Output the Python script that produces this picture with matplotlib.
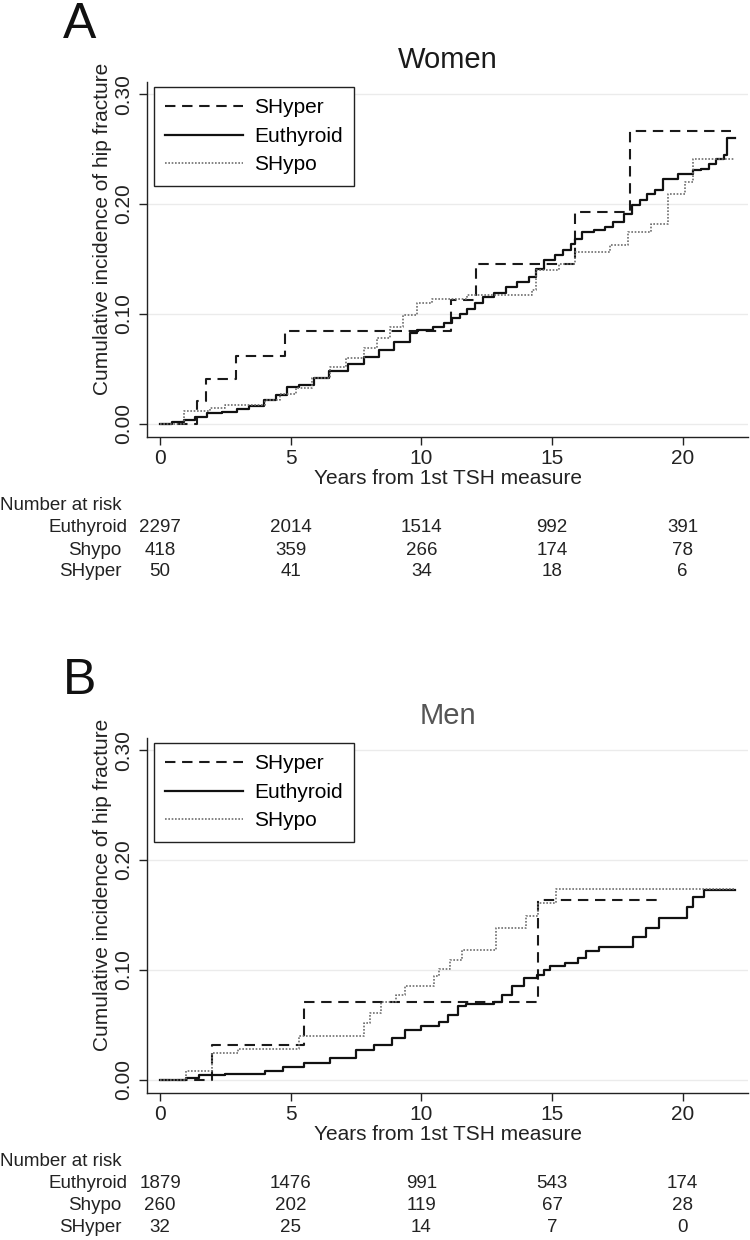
import matplotlib
matplotlib.use("Agg")
import matplotlib.pyplot as plt
import matplotlib.transforms as mtransforms

plt.rcParams['font.family'] = ['Liberation Sans', 'DejaVu Sans']

# ---- data ----
years_ticks = [0, 5, 10, 15, 20]
y_ticks = [0.0, 0.1, 0.2, 0.3]
groups = ["SHyper", "Euthyroid", "SHypo"]

# Women
women_shyper_t = [0, 1.42, 1.76, 2.89, 4.77, 11.14, 12.1, 15.87, 18.0, 21.85]
women_shyper_y = [0, 0.0205, 0.041, 0.062, 0.084, 0.113, 0.145, 0.193, 0.266, 0.266]

women_euth_t = [0, 0.47, 0.91, 1.35, 1.79, 2.38, 2.96, 3.40, 3.99, 4.43, 4.87, 5.31, 5.89,
                6.48, 7.21, 7.80, 8.39, 8.97, 9.56, 9.85, 10.44, 10.88, 11.17, 11.47, 11.76,
                12.05, 12.35, 12.79, 13.23, 13.67, 14.11, 14.40, 14.69, 15.13, 15.43, 15.72,
                15.87, 16.16, 16.60, 17.04, 17.33, 17.77, 18.06, 18.36, 18.65, 18.94, 19.24,
                19.82, 20.41, 20.70, 21.00, 21.29, 21.58, 21.70, 22.02]
women_euth_y = [0, 0.0015, 0.0039, 0.0063, 0.0094, 0.0106, 0.0136, 0.0166, 0.0221, 0.0266,
                0.0335, 0.0356, 0.0417, 0.0477, 0.0547, 0.0604, 0.0674, 0.0740, 0.0825, 0.0855,
                0.0885, 0.0915, 0.0961, 0.1000, 0.1042, 0.1097, 0.1157, 0.1193, 0.1248, 0.1293,
                0.1338, 0.1405, 0.1489, 0.1535, 0.1580, 0.1634, 0.1686, 0.1746, 0.1767, 0.1792,
                0.1837, 0.1912, 0.1988, 0.2033, 0.2094, 0.2124, 0.2230, 0.2275, 0.2305, 0.2320,
                0.2366, 0.2411, 0.2450, 0.2601, 0.2601]

women_shypo_t = [0, 0.9, 1.9, 2.5, 4.0, 4.6, 5.2, 5.8, 6.5, 7.1, 7.8, 8.3, 8.8, 9.3, 9.85,
                 10.4, 11.76, 14.25, 14.4, 15.28, 15.87, 17.2, 17.9, 18.8, 19.45, 20.1, 20.4, 22.0]
women_shypo_y = [0, 0.0115, 0.0145, 0.017, 0.022, 0.027, 0.0326, 0.042, 0.052, 0.060, 0.069,
                 0.078, 0.0885, 0.099, 0.1097, 0.1136, 0.117, 0.122, 0.140, 0.145, 0.156,
                 0.1625, 0.1746, 0.182, 0.209, 0.220, 0.241, 0.241]

# Men
men_shyper_t = [0, 2.0, 5.5, 14.47, 19.0]
men_shyper_y = [0, 0.032, 0.0706, 0.164, 0.164]

men_euth_t = [0, 1.0, 1.5, 2.5, 4.0, 4.7, 5.5, 6.5, 7.5, 8.2, 8.87, 9.36, 10.0, 10.67, 11.0,
              11.4, 11.7, 12.79, 13.1, 13.45, 13.93, 14.43, 14.7, 14.92, 15.5, 15.98, 16.31,
              16.8, 18.1, 18.6, 19.1, 20.15, 20.4, 20.8, 22.02]
men_euth_y = [0, 0.002, 0.004, 0.005, 0.008, 0.012, 0.015, 0.020, 0.027, 0.032, 0.038, 0.0456,
              0.049, 0.053, 0.059, 0.067, 0.069, 0.0704, 0.0773, 0.085, 0.0924, 0.0955, 0.100,
              0.104, 0.106, 0.1106, 0.1175, 0.121, 0.1296, 0.138, 0.147, 0.157, 0.166, 0.173, 0.173]

men_shypo_t = [0, 1.0, 2.0, 3.0, 5.3, 7.81, 8.05, 8.46, 9.03, 9.36, 10.5, 10.67, 11.08, 11.57,
               12.87, 14.02, 14.47, 15.16, 22.02]
men_shypo_y = [0, 0.008, 0.024, 0.028, 0.0396, 0.0517, 0.0607, 0.0704, 0.0773, 0.0855, 0.094,
               0.1006, 0.109, 0.118, 0.1378, 0.149, 0.161, 0.174, 0.174]

# number at risk
risk_rows = ["Euthyroid", "Shypo", "SHyper"]
women_risk_euth = [2297, 2014, 1514, 992, 391]
women_risk_shypo = [418, 359, 266, 174, 78]
women_risk_shyper = [50, 41, 34, 18, 6]
men_risk_euth = [1879, 1476, 991, 543, 174]
men_risk_shypo = [260, 202, 119, 67, 28]
men_risk_shyper = [32, 25, 14, 7, 0]

W, H = 750, 1240
fig = plt.figure(figsize=(W / 100, H / 100), dpi=100)


def fy(py):
    return 1 - py / H


def draw_panel(off, letter, title, title_color, curves, risks):
    ax = fig.add_axes([147 / W, fy(437 + off), (748 - 147) / W, (437 - 82) / H])
    ax.set_xlim(-0.5, 22.5)
    ax.set_ylim(-0.012, 0.311)
    for g in y_ticks:
        ax.axhline(g, color='#ebebeb', lw=1.0, zorder=0)

    (st, sy), (et, ey), (ht, hy) = curves
    ax.plot(st, sy, drawstyle='steps-post', color='#1a1a1a', lw=1.5,
            linestyle=(0, (5, 3.2)), label=groups[0])
    ax.plot(et, ey, drawstyle='steps-post', color='#111111', lw=1.6, label=groups[1])
    ax.plot(ht, hy, drawstyle='steps-post', color='#6e6e6e', lw=1.2,
            linestyle=(0, (1, 1)), label=groups[2])

    for s in ['top', 'right']:
        ax.spines[s].set_visible(False)
    for s in ['left', 'bottom']:
        ax.spines[s].set_linewidth(1.0)
        ax.spines[s].set_color('#222222')

    ax.set_xticks(years_ticks)
    ax.set_yticks(y_ticks)
    ax.set_yticklabels([f"{v:.2f}" for v in y_ticks], rotation=90, va='center')
    ax.tick_params(axis='both', labelsize=15, length=6, width=1.0, color='#222222',
                   labelcolor='#222222')
    ax.tick_params(axis='y', pad=4)
    ax.tick_params(axis='x', pad=3)

    leg = ax.legend(loc='upper left', bbox_to_anchor=(0.0116, 0.986), borderaxespad=0,
                    fontsize=15, handlelength=3.7, labelspacing=0.45, handletextpad=0.55,
                    borderpad=0.55, fancybox=False, framealpha=1, edgecolor='#222222')
    leg.get_frame().set_linewidth(1.0)

    fig.text(63 / W, fy(25 + off), letter, fontsize=36, ha='left', va='center', color='#111111')
    fig.text(447.5 / W, fy(60 + off), title, fontsize=21, ha='center', va='center', color=title_color)
    fig.text(102 / W, fy(229 + off), "Cumulative incidence of hip fracture", rotation=90,
             fontsize=15, ha='center', va='center', color='#222222')
    fig.text(447.5 / W, fy(479 + off), "Years from 1st TSH measure", fontsize=15,
             ha='center', va='center', color='#222222')

    # number at risk table
    trans = mtransforms.blended_transform_factory(ax.transData, fig.transFigure)
    fig.text(0 / W, fy(505 + off), "Number at risk", fontsize=13.5, ha='left', va='center',
             color='#222222')
    row_y = [528, 550, 572]
    row_right = [128, 121, 122]
    for name, vals, ry, rx in zip(risk_rows, risks, row_y, row_right):
        fig.text(rx / W, fy(ry + off), name, fontsize=13.5, ha='right', va='center', color='#222222')
        for yr, v in zip(years_ticks, vals):
            fig.text(yr, fy(ry + off), str(v), fontsize=13.5, ha='center', va='center',
                     color='#222222', transform=trans)
    return ax


draw_panel(0, "A", "Women", '#1a1a1a',
           [(women_shyper_t, women_shyper_y), (women_euth_t, women_euth_y),
            (women_shypo_t, women_shypo_y)],
           [women_risk_euth, women_risk_shypo, women_risk_shyper])

draw_panel(656, "B", "Men", '#555555',
           [(men_shyper_t, men_shyper_y), (men_euth_t, men_euth_y),
            (men_shypo_t, men_shypo_y)],
           [men_risk_euth, men_risk_shypo, men_risk_shyper])

fig.savefig("out.png", dpi=100, facecolor='white')
